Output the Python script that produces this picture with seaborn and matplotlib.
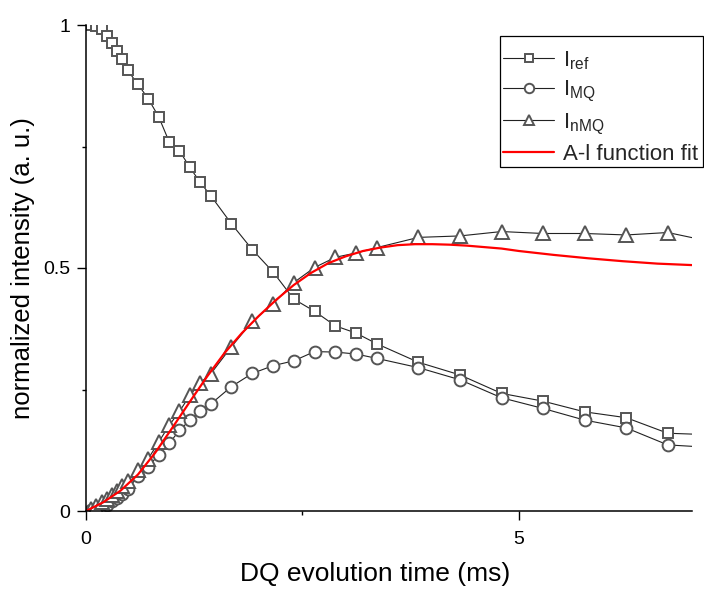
import matplotlib
matplotlib.use("Agg")
import matplotlib.pyplot as plt
import seaborn as sns
import pandas as pd
from matplotlib.ticker import MultipleLocator
from matplotlib.patches import Rectangle

# ---------------- data ----------------
t = [0.06, 0.12, 0.18, 0.24, 0.30, 0.36, 0.42, 0.48, 0.60, 0.72, 0.84, 0.96,
     1.08, 1.20, 1.32, 1.44, 1.68, 1.92, 2.16, 2.40, 2.64, 2.88, 3.12, 3.36,
     3.84, 4.32, 4.80, 5.28, 5.76, 6.24, 6.72, 7.20]

I_ref = [1.000, 0.997, 0.991, 0.978, 0.962, 0.947, 0.930, 0.907, 0.878, 0.848,
         0.811, 0.760, 0.741, 0.707, 0.676, 0.649, 0.591, 0.538, 0.492, 0.436,
         0.411, 0.381, 0.366, 0.344, 0.306, 0.280, 0.242, 0.226, 0.204, 0.192,
         0.160, 0.157]

I_MQ = [0.002, 0.004, 0.008, 0.013, 0.020, 0.027, 0.035, 0.045, 0.071, 0.091,
        0.116, 0.139, 0.166, 0.187, 0.206, 0.220, 0.256, 0.283, 0.299, 0.309,
        0.328, 0.327, 0.323, 0.314, 0.295, 0.270, 0.233, 0.211, 0.187, 0.171,
        0.136, 0.131]

I_nMQ = [0.004, 0.010, 0.018, 0.025, 0.033, 0.042, 0.052, 0.062, 0.084, 0.108,
         0.142, 0.176, 0.205, 0.238, 0.264, 0.282, 0.338, 0.390, 0.426, 0.470,
         0.501, 0.522, 0.531, 0.542, 0.563, 0.566, 0.575, 0.571, 0.571, 0.568,
         0.573, 0.555]

fit_t = [0.0, 0.2, 0.4, 0.6, 0.8, 1.0, 1.2, 1.4, 1.6, 1.8, 2.0, 2.2, 2.4, 2.6,
         2.8, 3.0, 3.2, 3.4, 3.6, 3.8, 4.0, 4.2, 4.4, 4.6, 4.8, 5.0, 5.4, 5.8,
         6.2, 6.6, 7.0]
fit_y = [0.0, 0.018, 0.042, 0.075, 0.120, 0.172, 0.225, 0.277, 0.325, 0.366,
         0.402, 0.435, 0.465, 0.490, 0.510, 0.524, 0.535, 0.542, 0.547, 0.549,
         0.549, 0.548, 0.546, 0.543, 0.540, 0.535, 0.527, 0.520, 0.514, 0.509,
         0.506]

labels = [r"I$_{\mathregular{ref}}$", r"I$_{\mathregular{MQ}}$",
          r"I$_{\mathregular{nMQ}}$", "A-l function fit"]
xticks = [0, 5]
yticks = [0, 0.5, 1]
ytick_labels = ["0", "0.5", "1"]

# ---------------- style ----------------
sns.set_theme(style="ticks")
plt.rcParams["font.family"] = ["Liberation Sans", "DejaVu Sans"]
plt.rcParams["mathtext.fontset"] = "custom"
plt.rcParams["mathtext.rm"] = "Liberation Sans"
plt.rcParams["mathtext.it"] = "Liberation Sans"
plt.rcParams["mathtext.default"] = "regular"

fig = plt.figure(figsize=(7.04, 5.90), dpi=100)
ax = fig.add_axes([86 / 704, 1 - 511 / 590, (692 - 86) / 704, (511 - 25) / 590])

df = pd.DataFrame({"t": t, "ref": I_ref, "mq": I_MQ, "nmq": I_nMQ})
fit_df = pd.DataFrame({"t": fit_t, "y": fit_y})

mk_common = dict(color="#222222", linewidth=0.8, markerfacecolor="white",
                 markeredgecolor="#555555", markeredgewidth=1.4)

sns.lineplot(data=df, x="t", y="ref", ax=ax, marker="s", markersize=7.5,
             label=labels[0], sort=False, **mk_common)
sns.lineplot(data=df, x="t", y="mq", ax=ax, marker="o", markersize=8.5,
             label=labels[1], sort=False, **mk_common)
sns.lineplot(data=df, x="t", y="nmq", ax=ax, marker="^", markersize=9.5,
             label=labels[2], sort=False, **mk_common)
sns.lineplot(data=fit_df, x="t", y="y", ax=ax, color="#ff0000", linewidth=1.6,
             label=labels[3], sort=False)

ax.set_xlim(0, 7)
ax.set_ylim(0, 1)
ax.set_xticks(xticks)
ax.set_yticks(yticks)
ax.set_yticklabels(ytick_labels)
ax.xaxis.set_minor_locator(MultipleLocator(2.5))
ax.yaxis.set_minor_locator(MultipleLocator(0.25))
ax.tick_params(which="major", direction="out", length=6.5, width=1.0,
               labelsize=14, color="black", labelcolor="black")
ax.tick_params(axis="x", which="major", pad=8)
ax.tick_params(axis="y", which="major", pad=5)
ax.tick_params(which="minor", direction="out", length=3, width=1.0, color="black")

for s in ["top", "right"]:
    ax.spines[s].set_visible(False)
for s in ["left", "bottom"]:
    ax.spines[s].set_linewidth(1.1)
    ax.spines[s].set_color("black")

ax.set_xlabel("DQ evolution time (ms)", fontsize=19, color="black")
ax.set_ylabel("normalized intensity (a. u.)", fontsize=18.5, color="black")
ax.xaxis.label.set_va("center")
ax.yaxis.label.set_va("center")
ax.xaxis.set_label_coords((375 - 86) / (692 - 86), -(574 - 511) / (511 - 25))
ax.yaxis.set_label_coords(-(86 - 23) / (692 - 86), (511 - 268) / (511 - 25))

leg = ax.legend(loc="upper left", bbox_to_anchor=(491 / 704, 1 - 37 / 590),
                bbox_transform=fig.transFigure, borderaxespad=0, fontsize=16,
                frameon=False, handlelength=2.3, handletextpad=0.4,
                borderpad=0.55, labelspacing=0.33, markerscale=0.8)

# legend frame box
fig.add_artist(Rectangle((500 / 704, 1 - 167 / 590), 203 / 704, 131 / 590,
                         transform=fig.transFigure, fill=False,
                         edgecolor="black", linewidth=0.9))

fig.savefig("out.png", dpi=100)
